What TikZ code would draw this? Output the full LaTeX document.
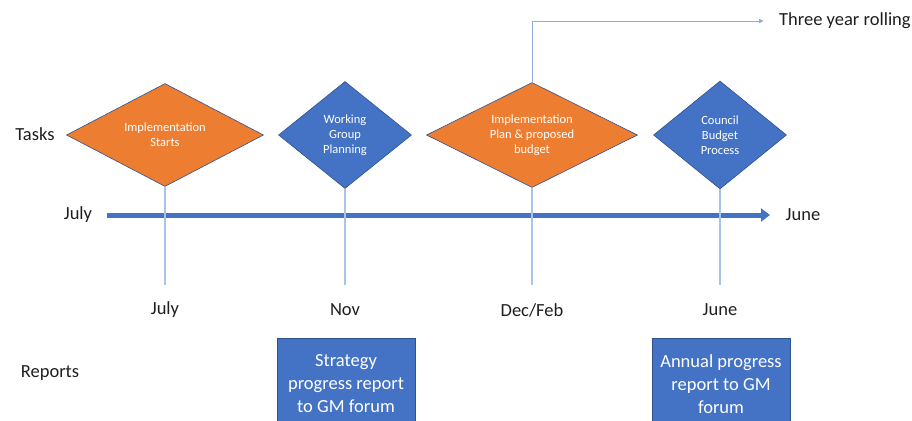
\documentclass[tikz,border=0pt]{standalone}
\usepackage{fontspec}
\setmainfont{Carlito}
\usetikzlibrary{shapes.geometric, arrows.meta, positioning}
\definecolor{taskorange}{RGB}{237, 125, 49}
\definecolor{taskblue}{RGB}{68, 114, 196}
\definecolor{edgeblue}{RGB}{47, 82, 143}
\definecolor{paleblue}{RGB}{169, 196, 235}
\definecolor{linkblue}{RGB}{143, 170, 220}
\definecolor{textgrey}{RGB}{30, 30, 30}

\begin{document}
\begin{tikzpicture}[
    x=1pt, y=-1pt,
    task/.style={diamond, draw=edgeblue, line width=0.6pt, text=white, inner sep=0pt, align=center, font=\fontsize{12.5}{15}\selectfont},
    orangetask/.style={task, fill=taskorange, shape aspect=2},
    bluetask/.style={task, fill=taskblue, shape aspect=1.25},
    report/.style={rectangle, fill=taskblue, draw=edgeblue, line width=0.4pt, text=white, align=center, minimum width=138pt, minimum height=92pt, font=\fontsize{18.5}{23}\selectfont},
    rowtext/.style={text=textgrey, inner sep=1pt, font=\fontsize{18.5}{22}\selectfont},
    guide/.style={paleblue, line width=1.2pt},
    timeline/.style={-{Triangle[length=9pt, width=13pt]}, taskblue, line width=5pt},
    rolling/.style={-{Latex[length=5pt, width=5pt]}, linkblue, line width=0.9pt}
]
    \clip (0,0) rectangle (912,420);

    % row captions
    \node[rowtext] (tasks) at (35,134) {Tasks};
    \node[rowtext] (reports) at (50,373) {Reports};
    \node[rowtext] (start) at (78,215) {July};
    \node[rowtext] (end) at (803,215) {June};

    % timeline
    \coordinate (tstart) at (107,215);
    \coordinate (tend) at (770,215);
    \coordinate (gend) at (0,285);
    \draw[timeline] (tstart) -- (tend);

    % tasks
    \node[orangetask, minimum width=197pt, minimum height=103pt] (impl) at (165,135) {Implementation\\Starts};
    \node[bluetask, minimum width=133pt, minimum height=107pt] (work) at (345,135) {Working\\Group\\Planning};
    \node[orangetask, minimum width=211pt, minimum height=105pt] (plan) at (532,135) {Implementation\\Plan \& proposed\\budget};
    \node[bluetask, minimum width=133pt, minimum height=108pt] (council) at (720,135) {Council\\Budget\\Process};

    \foreach \n in {impl, work, plan, council}
        \draw[guide] (\n.south) -- (\n.south |- gend);

    % months
    \node[rowtext] (mjuly) at (165,310) {July};
    \node[rowtext] (mnov) at (345,310) {Nov};
    \node[rowtext] (mdec) at (532,310) {Dec/Feb};
    \node[rowtext] (mjune) at (720,310) {June};

    % three year rolling
    \node[rowtext, anchor=west] (rolling) at (778,21) {Three year rolling};
    \draw[rolling] (plan.north) |- ([xshift=-14pt]rolling.west);

    % reports
    \node[report] (strategy) at (346,384) {Strategy\\progress report\\to GM forum};
    \node[report] (annual) at (721,384) {Annual progress\\report to GM\\forum};
\end{tikzpicture}
\end{document}
